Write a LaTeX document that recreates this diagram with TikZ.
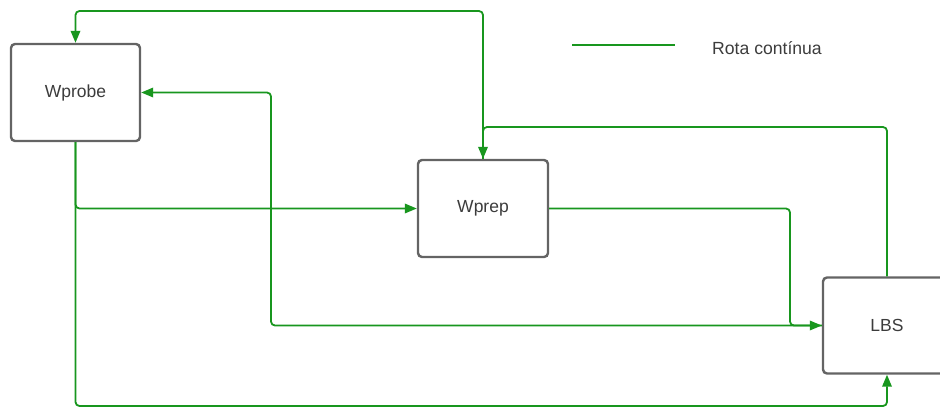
\documentclass[tikz,border=0pt]{standalone}
\usepackage{fontspec}
\setmainfont{Liberation Sans}
\usetikzlibrary{arrows.meta}
\definecolor{flowgreen}{RGB}{24,150,30}
\definecolor{boxgray}{RGB}{100,100,100}
\definecolor{txtgray}{RGB}{60,60,60}
\begin{document}
\begin{tikzpicture}[x=1pt,y=-1pt,
  block/.style={draw=boxgray,line width=2.4pt,rounded corners=4pt,fill=white,
    minimum width=129pt,minimum height=97pt,inner sep=0pt,
    font=\fontsize{17.5}{20}\selectfont,text=txtgray},
  flow/.style={draw=flowgreen,line width=1.8pt,rounded corners=4pt},
  tip/.style={-{Triangle[length=12pt,width=9.5pt]}}]
\useasboundingbox (0,0) rectangle (940,408);
\clip (0,0) rectangle (940,408);

% bend points of the connectors
\coordinate (t1) at (483,11);
\coordinate (t2) at (75.5,11);
\coordinate (r1) at (887,127);
\coordinate (r2) at (483,127);
\coordinate (s1) at (75.5,208.5);
\coordinate (b1) at (75.5,406);
\coordinate (b2) at (887,406);
\coordinate (e1) at (790,208.5);
\coordinate (e2) at (790,325.5);
\coordinate (m1) at (271,325.5);
\coordinate (m2) at (271,92.5);

% blocks
\node[block] (wprobe) at (75.5,92.5) {\raisebox{-2pt}{Wprobe}};
\node[block,minimum width=130pt] (wprep) at (483,208.5) {\raisebox{-2pt}{Wprep}};
\node[block,minimum width=128pt,minimum height=96pt] (lbs) at (887,325.5) {\raisebox{-2pt}{LBS}};

% connectors
\draw[flow,tip] (wprep.north) -- (t1) -- (t2) -- (wprobe.north);
\draw[flow,tip] (lbs.north) -- (r1) -- (r2) -- (wprep.north);
\draw[flow,tip] (wprobe.south) -- (s1) -- (wprep.west);
\draw[flow,tip] (wprobe.south) -- (b1) -- (b2) -- (lbs.south);
\draw[flow,tip] (wprep.east) -- (e1) -- (e2) -- (lbs.west);
\draw[flow,tip] (lbs.west) -- (m1) -- (m2) -- (wprobe.east);

% legend
\coordinate (lg1) at (572,45);
\coordinate (lg2) at (675,45);
\draw[draw=flowgreen,line width=2.6pt] (lg1) -- (lg2);
\node[anchor=west,inner sep=0pt,font=\fontsize{17.6}{20}\selectfont,text=txtgray] (legtxt) at (712,48) {Rota contínua};
\end{tikzpicture}
\end{document}
